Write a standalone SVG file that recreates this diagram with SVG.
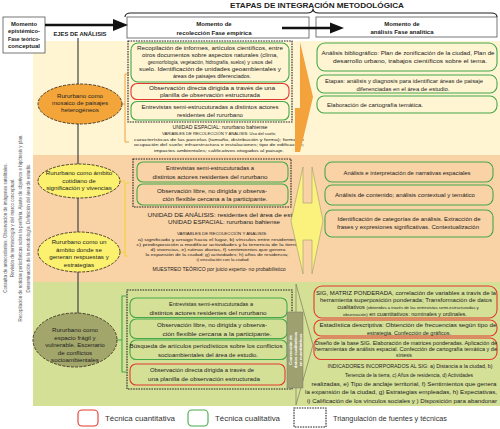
<svg xmlns="http://www.w3.org/2000/svg" width="500" height="429" viewBox="0 0 500 429">
<style>
text{font-family:'Liberation Sans',Arial,sans-serif;fill:#222}
.c{text-anchor:middle}
.b{font-weight:bold}
.v{font-size:4.5px;fill:#555}
.e{font-size:6.2px;fill:#222}
.f43{font-size:4.3px}
.f47{font-size:4.7px}
.f5{font-size:5.1px}
.f54{font-size:5.4px}
.f56{font-size:5.6px}
.f6{font-size:6px}
.lg{font-size:7px;fill:#333}
.g{fill:none;stroke:#45A84B;stroke-width:1.1}
.r{fill:none;stroke:#E2392E;stroke-width:1.1}
.d{fill:none;stroke:#222;stroke-width:1.1;stroke-dasharray:1.6 1}
.el{stroke:#3a3020;stroke-width:0.9;stroke-dasharray:3 1.3}
.hb{fill:#fff;stroke:#555;stroke-width:0.8}
</style>

<!-- bands -->
<rect x="33" y="41" width="467" height="114" fill="#FFF5D3"/>
<rect x="33" y="155" width="467" height="127" fill="#F9D3A6"/>
<rect x="33" y="282" width="467" height="124" fill="#D5E097"/>

<!-- vertical preface text -->
<g id="prefase">
<text class="v c" transform="translate(7,228) rotate(-90)">Consulta de antecedentes. Observación de imágenes satelitales.</text>
<text class="v c" transform="translate(14,228) rotate(-90)">Revisión de terminología y del marco conceptual.</text>
<text class="v c" transform="translate(22,228) rotate(-90)">Recopilación de noticias periodísticas sobre la periferia. Ajuste de objetivos e hipótesis y plan.</text>
<text class="v c" transform="translate(29.5,228) rotate(-90)">Determinación de la metodología. Definición del área de estudio.</text>
</g>

<!-- header -->
<g id="titulo">
<text class="c b" x="317" y="7.5" font-size="7.6" textLength="174" lengthAdjust="spacingAndGlyphs">ETAPAS DE INTEGRACIÓN METODOLÓGICA</text>
</g>
<g id="momento-epistemico">
<rect class="hb" x="3" y="17" width="42" height="36"/>
<text class="c b" x="24" y="25.5" font-size="5.6" textLength="26" lengthAdjust="spacingAndGlyphs">Momento</text>
<text class="c b" x="24" y="33" font-size="5.6" textLength="32" lengthAdjust="spacingAndGlyphs">epistémico-</text>
<text class="c b" x="24" y="40.5" font-size="5.6" textLength="32" lengthAdjust="spacingAndGlyphs">Fase teórico-</text>
<text class="c b" x="24" y="48" font-size="5.6" textLength="32" lengthAdjust="spacingAndGlyphs">conceptual</text>
</g>
<g id="ejes">
<text class="c b" x="80" y="35.5" font-size="5.6" textLength="53" lengthAdjust="spacingAndGlyphs">EJES DE ANÁLISIS</text>
</g>
<g id="momento-recoleccion">
<rect class="hb" x="127" y="17" width="182" height="21"/>
<text class="c b" x="214" y="26" font-size="6">Momento de</text>
<text class="c b" x="214" y="34.5" font-size="6">recolección Fase empírica</text>
</g>
<g id="momento-analisis">
<rect class="hb" x="316" y="17" width="181" height="20"/>
<text class="c b" x="402" y="26" font-size="6">Momento de</text>
<text class="c b" x="402" y="34" font-size="6">análisis Fase analítica</text>
</g>

<!-- connectors -->
<g id="connectors" fill="none">
<path d="M125,17 Q125,13 131,13 L307,13 Q313,13 313,8.5 Q313,13 319,13 L491,13 Q497,13 497,17" stroke="#222" stroke-width="1.1"/>
<line x1="45" y1="25" x2="116" y2="25" stroke="#111" stroke-width="2.6"/>
<polygon points="113,19 128,25 113,31" fill="#111"/>
<line x1="282" y1="28" x2="333" y2="28" stroke="#111" stroke-width="2.6"/>
<polygon points="330,22.5 344,28 330,33.5" fill="#111"/>
<line x1="78" y1="38" x2="78" y2="314" stroke="#444" stroke-width="1.2"/>
<path d="M129,74 L125,74 L125,142 L129,142 M121,104 L125,104" stroke="#F0A040" stroke-width="1"/>
<path d="M129,183 L125,183 L125,256 L129,256 M120,181 L125,181 M120,252 L125,252" stroke="#F2D43A" stroke-width="1.2"/>
<path d="M126,296 L122,296 L122,372 L126,372 M117,340 L122,340" stroke="#3DAA4A" stroke-width="1.1"/>
</g>

<!-- ellipses -->
<g id="eje1">
<ellipse class="el" cx="80" cy="104" rx="42" ry="20" fill="#F4A53A"/>
<text class="e c" x="80" y="98">Rururbano como</text>
<text class="e c" x="80" y="105">mosaico de paisajes</text>
<text class="e c" x="80" y="112">heterogéneos</text>
</g>
<g id="eje2">
<ellipse class="el" cx="79" cy="181" rx="41" ry="17" fill="#FBF16E"/>
<text class="e c" x="79" y="175">Rururbano como ámbito</text>
<text class="e c" x="79" y="182.5">cotidiano de</text>
<text class="e c" x="79" y="190">significación y vivencias</text>
</g>
<g id="eje3">
<ellipse class="el" cx="79" cy="252" rx="41" ry="20" fill="#FBF16E"/>
<text class="e c" x="79" y="244">Rururbano como un</text>
<text class="e c" x="79" y="251.5">ámbito donde se</text>
<text class="e c" x="79" y="259">generan respuestas y</text>
<text class="e c" x="79" y="266.5">estrategias</text>
</g>
<g id="eje4">
<ellipse class="el" cx="75" cy="340" rx="42" ry="27" fill="#A3A66A"/>
<text class="e c" x="75" y="332">Rururbano como</text>
<text class="e c" x="75" y="339.5">espacio frágil y</text>
<text class="e c" x="75" y="347">vulnerable. Escenario</text>
<text class="e c" x="75" y="354.5">de conflictos</text>
<text class="e c" x="75" y="362">socioambientales</text>
</g>

<!-- band 1 recoleccion -->
<g id="recoleccion1">
<rect class="d" x="128" y="41" width="164" height="81"/>
<rect class="g" x="131" y="43" width="158" height="39" rx="7"/>
<text class="c f54" x="210" y="49.5" textLength="146" lengthAdjust="spacingAndGlyphs">Recopilación de informes, artículos científicos, entre</text>
<text class="c f54" x="210" y="56.5" textLength="136" lengthAdjust="spacingAndGlyphs">otros documentos sobre aspectos naturales (clima,</text>
<text class="c" x="210" y="63.5"><tspan font-size="4.7">geomorfología, vegetación, hidrografía, suelos)</tspan><tspan font-size="5.6"> y usos del</tspan></text>
<text class="c f54" x="210" y="70.5" textLength="142" lengthAdjust="spacingAndGlyphs">suelo. Identificación de unidades geoambientales y</text>
<text class="c f54" x="212" y="78" textLength="78" lengthAdjust="spacingAndGlyphs">áreas de paisajes diferenciados.</text>
<rect class="r" x="131" y="83.5" width="158" height="16" rx="6"/>
<text class="c f56" x="212" y="90" textLength="126" lengthAdjust="spacingAndGlyphs">Observación directa dirigida a través de una</text>
<text class="c f56" x="210" y="97.2" textLength="100" lengthAdjust="spacingAndGlyphs">planilla de observación estructurada</text>
<rect class="g" x="131" y="101.5" width="158" height="18.5" rx="6"/>
<text class="c f56" x="210" y="109" textLength="137" lengthAdjust="spacingAndGlyphs">Entrevistas semi-estrucuturadas a distintos actores</text>
<text class="c f56" x="210" y="117" textLength="66" lengthAdjust="spacingAndGlyphs">residentes del rururbano</text>
<text class="c f6" x="220" y="128.5" textLength="95" lengthAdjust="spacingAndGlyphs">UNIDAD ESPACIAL: rururbano bahiense</text>
<text class="c f43" x="219" y="135" textLength="114" lengthAdjust="spacingAndGlyphs">VARIABLES DE RECOLECCIÓN Y ANÁLISIS: Uso del suelo;</text>
<text class="c f43" x="219" y="140.5" textLength="170" lengthAdjust="spacingAndGlyphs">características de las parcelas (tamaño, distribución y forma); forma de</text>
<text class="c f43" x="219" y="146" textLength="170" lengthAdjust="spacingAndGlyphs">ocupación del suelo; infraestructura e instalaciones; tipo de edificación;</text>
<text class="c f43" x="219" y="151.5" textLength="130" lengthAdjust="spacingAndGlyphs">impactos ambientales; calificativos otogados al paisaje.</text>
</g>
<g id="flecha1">
<polygon points="295,108 300,108 300,42 313,97 300,152 295,152" fill="#F4A23C"/>
</g>
<g id="analisis1">
<rect class="g" x="317" y="43" width="180" height="28" rx="8"/>
<text class="c f54" x="408" y="55" textLength="173" lengthAdjust="spacingAndGlyphs">Análisis bibliográfico: Plan de zonificación de la ciudad, Plan de</text>
<text class="c f54" x="410" y="63" textLength="154" lengthAdjust="spacingAndGlyphs">desarrollo urbano, trabajos científicos sobre el tema.</text>
<rect class="g" x="317" y="75" width="180" height="18" rx="7"/>
<text class="c f5" x="404" y="83" textLength="158" lengthAdjust="spacingAndGlyphs">Etapas: análisis y diagnosis para identificar áreas de paisaje</text>
<text class="c f5" x="403" y="90.5" textLength="93" lengthAdjust="spacingAndGlyphs">diferenciadas en el área de estudio.</text>
<rect class="g" x="317" y="96" width="180" height="17" rx="7"/>
<text class="f56" x="327" y="106.5" textLength="96" lengthAdjust="spacingAndGlyphs">Elaboración de cartografía temática.</text>
</g>

<!-- band 2 -->
<g id="recoleccion2">
<rect class="d" x="133" y="159" width="158" height="48"/>
<rect class="g" x="137" y="162" width="151" height="20" rx="6"/>
<text class="c f56" x="210" y="170" textLength="88" lengthAdjust="spacingAndGlyphs">Entrevistas semi-estrucuturadas a</text>
<text class="c f56" x="210" y="178.5" textLength="115" lengthAdjust="spacingAndGlyphs">distintos actores residentes del rururbano</text>
<rect class="g" x="137" y="184" width="151" height="21" rx="6"/>
<text class="c f56" x="212" y="192.5" textLength="110" lengthAdjust="spacingAndGlyphs">Observación libre, no dirigida y observa-</text>
<text class="c f56" x="215" y="201" textLength="105" lengthAdjust="spacingAndGlyphs">ción flexible cercana a la participante.</text>
<text class="c f6" x="226" y="216.5" textLength="157" lengthAdjust="spacingAndGlyphs">UNIDAD DE ANÁLISIS: residentes del área de estudio</text>
<text class="c f6" x="224" y="223.5" textLength="112" lengthAdjust="spacingAndGlyphs">UNIDAD ESPACIAL: rururbano bahiense</text>
<text class="c f43" x="222" y="234.5" textLength="90" lengthAdjust="spacingAndGlyphs">VARIABLES DE RECOLECCIÓN Y ANÁLISIS:</text>
<text class="c f43" x="218" y="240.5" textLength="160" lengthAdjust="spacingAndGlyphs">a) significado y arraigo hacia el lugar, b) vínculos entre residentes,</text>
<text class="c f43" x="218" y="245.5" textLength="163" lengthAdjust="spacingAndGlyphs">c) predisposición a modificar actividades y la tenencia de la tierra,</text>
<text class="c f43" x="218" y="250.5" textLength="135" lengthAdjust="spacingAndGlyphs">d) vivencias, e) rutinas diarias, f) sentimientos que genera</text>
<text class="c f43" x="217" y="255.5" textLength="143" lengthAdjust="spacingAndGlyphs">la expansión de la ciudad; g) actividades; h) años de residencia;</text>
<text class="c f43" x="223" y="260.5" textLength="53" lengthAdjust="spacingAndGlyphs">i) vinculación con la ciudad.</text>
<text class="c f5" x="219" y="271" textLength="133" lengthAdjust="spacingAndGlyphs">MUESTREO TEÓRICO por juicio experto- no probabilístico</text>
</g>
<g id="flecha2">
<polygon points="291,221 303,167 303,203 312,203 312,167 323,221 312,274 312,240 303,240 303,274" fill="#FAF27C" stroke="#9a9a70" stroke-width="0.6"/>
</g>
<g id="analisis2">
<rect class="g" x="325" y="162" width="168" height="20" rx="7"/>
<text class="c f54" x="407" y="174.5" textLength="127" lengthAdjust="spacingAndGlyphs">Análisis e interpretación de narrativas espaciales</text>
<rect class="g" x="325" y="185" width="168" height="20" rx="7"/>
<text class="c f54" x="405" y="196.5" textLength="140" lengthAdjust="spacingAndGlyphs">Análisis de contenido; análisis contextual y temático</text>
<rect class="g" x="325" y="210" width="168" height="27" rx="7"/>
<text class="c f54" x="409" y="220.5" textLength="143" lengthAdjust="spacingAndGlyphs">Identificación de categorías de análisis. Extracción de</text>
<text class="c f54" x="408" y="229" textLength="142" lengthAdjust="spacingAndGlyphs">frases y expresiones significativas. Contextualización</text>
</g>

<!-- band 3 -->
<g id="recoleccion3">
<rect class="d" x="127" y="290" width="165" height="99"/>
<rect class="g" x="130" y="298" width="157" height="19.5" rx="6"/>
<text class="c f56" x="211" y="306" textLength="84" lengthAdjust="spacingAndGlyphs">Entrevistas semi-estrucuturadas a</text>
<text class="c f56" x="208" y="314.5" textLength="117" lengthAdjust="spacingAndGlyphs">distintos actores residentes del rururbano</text>
<rect class="g" x="130" y="319" width="157" height="19.5" rx="6"/>
<text class="c f56" x="212" y="327" textLength="110" lengthAdjust="spacingAndGlyphs">Observación libre, no dirigida y observa-</text>
<text class="c f56" x="217" y="335.5" textLength="109" lengthAdjust="spacingAndGlyphs">ción flexible cercana a la participante.</text>
<rect class="g" x="130" y="340" width="157" height="19.5" rx="6"/>
<text class="c f56" x="206" y="348" textLength="153" lengthAdjust="spacingAndGlyphs">Búsqueda de artículos periodísticos sobre los conflictos</text>
<text class="c f56" x="208" y="356.5" textLength="100" lengthAdjust="spacingAndGlyphs">socioambientales del área de estudio.</text>
<rect class="r" x="130" y="364" width="155" height="21" rx="6"/>
<text class="c f56" x="202" y="372" textLength="104" lengthAdjust="spacingAndGlyphs">Observación directa dirigida a través de</text>
<text class="c f56" x="204" y="380.5" textLength="112" lengthAdjust="spacingAndGlyphs">una planilla de observación estructurada</text>
</g>
<g id="flecha3">
<polygon points="296,284 313,345 296,405" fill="none" stroke="#858565" stroke-width="0.8"/>
<rect x="287" y="312" width="16" height="76" fill="#9FA070" stroke="#777" stroke-width="0.5"/>
<text class="c b" font-size="4.3" style="fill:#fff" transform="translate(292,350) rotate(-90)">Conversión de</text>
<text class="c b" font-size="4.3" style="fill:#fff" transform="translate(297,350) rotate(-90)">datos cualitativos</text>
<text class="c b" font-size="4.3" style="fill:#fff" transform="translate(302,350) rotate(-90)">en cuantitativos</text>
</g>
<g id="analisis3">
<rect class="r" x="314" y="286" width="183" height="32" rx="8"/>
<text class="c" x="406" y="294.5" font-size="5.2" textLength="180" lengthAdjust="spacingAndGlyphs">SIG, MATRIZ PONDERADA, correlación de variables a travís de la</text>
<text class="c f56" x="406" y="301.5" textLength="172" lengthAdjust="spacingAndGlyphs">herramienta superposición ponderada; Transformación de datos</text>
<text class="c" x="408" y="308.5"><tspan font-size="5.6">cualitativos </tspan><tspan font-size="4.3">(obtenidos a través de las entrevistas semi-estructuradas y</tspan></text>
<text class="c" x="405" y="315.5"><tspan font-size="4.3">observación)</tspan><tspan font-size="5.6"> en cuantitativos: nominales y ordinales.</tspan></text>
<rect class="r" x="314" y="320" width="183" height="16" rx="7"/>
<text class="c f56" x="408" y="327" textLength="177" lengthAdjust="spacingAndGlyphs">Estadística descriptiva: Obtención de frecuencias según tipo de</text>
<text class="c f56" x="409" y="334.5" textLength="84" lengthAdjust="spacingAndGlyphs">estrategia. Confección de gráficos.</text>
<rect class="r" x="314" y="338" width="183" height="21.5" rx="7"/>
<text class="c f47" x="406" y="344.5" textLength="182" lengthAdjust="spacingAndGlyphs">Diseño de la base SIG. Elaboración de matrices ponderadas. Aplicación de</text>
<text class="c f47" x="406" y="351" textLength="182" lengthAdjust="spacingAndGlyphs">herramientas de análisis espacial. Confección de cartografía temática y de</text>
<text class="c f47" x="404" y="357.3">síntesis</text>
<text class="c" x="410" y="368" font-size="4.7" textLength="165" lengthAdjust="spacingAndGlyphs">INDICADORES INCORPORADOS AL SIG: a) Distancia a la ciudad, b)</text>
<text class="c f56" x="409" y="376.8" textLength="128" lengthAdjust="spacingAndGlyphs">Tenencia de la tierra, c) Años de residencia, d) Actividades</text>
<text class="c f56" x="404" y="385.6" textLength="185" lengthAdjust="spacingAndGlyphs">realizadas, e) Tipo de anclaje territorial, f) Sentimientos que genera</text>
<text class="c f56" x="401" y="394.4" textLength="192" lengthAdjust="spacingAndGlyphs">la expansión de la ciudad, g) Estrategias  empleadas, h) Expectativas,</text>
<text class="c f56" x="402" y="403.2" textLength="190" lengthAdjust="spacingAndGlyphs">i) Calificación de los vínculos sociales y ) Disposición para abandonar</text>
</g>

<!-- legend -->
<g id="leyenda">
<rect x="78" y="410" width="20" height="16" rx="4" fill="#fff" stroke="#E2392E" stroke-width="1.1"/>
<text class="lg" x="105" y="421" textLength="70" lengthAdjust="spacingAndGlyphs">Técnica cuantitativa</text>
<rect x="188" y="410" width="20" height="16" rx="4" fill="#fff" stroke="#45A84B" stroke-width="1.1"/>
<text class="lg" x="215" y="421" textLength="65" lengthAdjust="spacingAndGlyphs">Técnica cualitativa</text>
<rect class="d" x="294" y="408" width="32" height="19"/>
<text class="lg" x="333" y="421" textLength="114" lengthAdjust="spacingAndGlyphs">Triangulación de fuentes y técnicas</text>
</g>
</svg>
